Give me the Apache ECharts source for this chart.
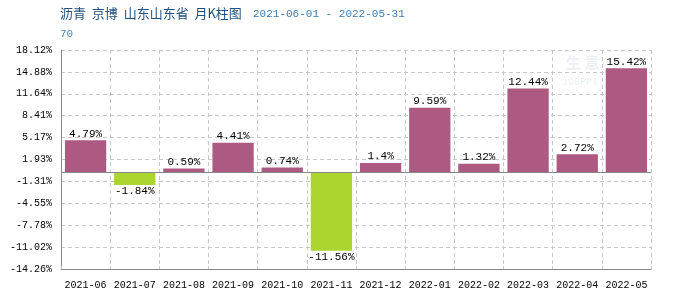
<!DOCTYPE html>
<html><head><meta charset="utf-8">
<script src="https://cdn.jsdelivr.net/npm/echarts@6/dist/echarts.min.js"></script>
<style>html,body{margin:0;padding:0;background:#fff}#c{width:700px;height:300px}</style>
</head><body><div id="c"></div>
<script>
const categories = ['2021-06','2021-07','2021-08','2021-09','2021-10','2021-11','2021-12','2022-01','2022-02','2022-03','2022-04','2022-05'];
const values = [4.79,-1.84,0.59,4.41,0.74,-11.56,1.4,9.59,1.32,12.44,2.72,15.42];
const yTicks = [-14.26,-11.02,-7.78,-4.55,-1.31,1.93,5.17,8.41,11.64,14.88,18.12];
const titleMain = '沥青  京博  山东山东省  月K柱图';
const titleDate = '2021-06-01 - 2022-05-31';
const subText = '70';

const mono = '"Liberation Mono", "DejaVu Sans Mono", monospace';
const chart = echarts.init(document.getElementById('c'), null, {renderer:'canvas'});
chart.setOption({
  animation:false,
  graphic:[
    {type:'text',left:60,top:7,style:{text:titleMain,font:'13px "Noto Sans CJK SC"',fill:'#1d4f7f'}},
    {type:'text',left:253,top:9,style:{text:titleDate,font:'11px '+mono,fill:'#3b7bb0'}},
    {type:'text',left:60,top:29,style:{text:subText,font:'11px '+mono,fill:'#4a86bb'}},
    {type:'text',left:566,top:55,style:{text:'生 意',font:'bold 15px "Noto Sans CJK SC"',fill:'rgba(220,225,230,0.5)'}},
    {type:'text',left:562,top:77,style:{text:'100PPI',font:'10px '+mono,fill:'rgba(220,225,230,0.5)'}}
  ],
  grid:{left:61,right:49,top:50,bottom:31},
  xAxis:{
    type:'category',data:categories,
    axisLine:{onZero:false,lineStyle:{color:'#888',width:1}},
    axisTick:{show:true,inside:true,length:3,lineStyle:{color:'#ccc'}},
    axisLabel:{fontFamily:mono,fontSize:10,color:'#000',margin:11,interval:0},
    splitLine:{show:true,interval:0,lineStyle:{type:[4,3],color:'#c8c8c8'}}
  },
  yAxis:{
    type:'value',min:yTicks[0],max:yTicks[yTicks.length-1],
    axisLine:{show:true,lineStyle:{color:'#888'}},
    axisTick:{show:false,customValues:yTicks},
    axisLabel:{customValues:yTicks,fontFamily:mono,fontSize:10,color:'#000',margin:9,
      formatter:v=>v.toFixed(2)+'%'},
    splitLine:{show:true,lineStyle:{type:[4,3],color:'#c8c8c8'}}
  },
  series:[{
    type:'bar',
    data:values.map(v=>({value:v,itemStyle:{color:v>=0?'#ad5a82':'#add532'},
      label:{position:v>=0?'top':'bottom'}})),
    barCategoryGap:'16%',
    label:{show:true,fontFamily:mono,fontSize:11,color:'#000',distance:1,formatter:p=>p.value+'%'},
    markLine:{silent:true,symbol:'none',label:{show:false},
      lineStyle:{color:'#888',type:'solid',width:1},data:[{yAxis:0}]}
  }]
});
</script></body></html>
